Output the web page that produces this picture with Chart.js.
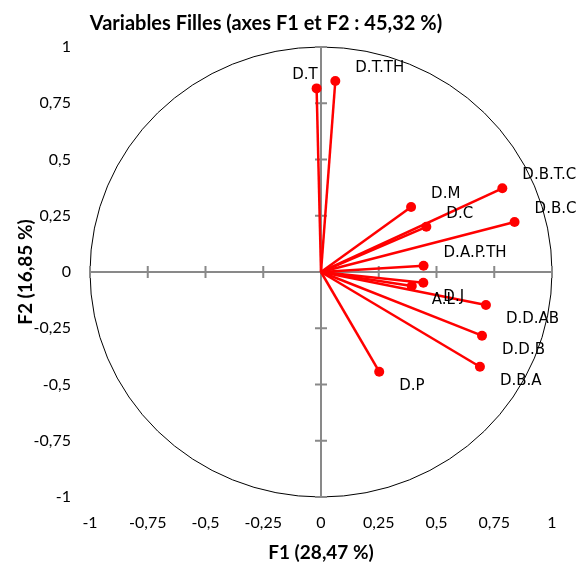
<!DOCTYPE html>
<html>
<head>
<meta charset="utf-8">
<script src="https://cdn.jsdelivr.net/npm/chart.js@4.4.1/dist/chart.umd.min.js"></script>
<style>
  html, body { margin: 0; padding: 0; background: #fff; }
  #wrap { width: 578px; height: 564px; }
</style>
</head>
<body>
<div id="wrap"><canvas id="chart"></canvas></div>
<script>
// correlation circle, variables on F1 / F2
const variables = ["D.T", "D.T.TH", "D.M", "D.B.T.C", "D.C", "D.B.C", "D.A.P.TH", "D.J", "A.L", "D.D.AB", "D.D.B", "D.B.A", "D.P"];
const f1Values = [-0.019, 0.062, 0.390, 0.785, 0.456, 0.838, 0.444, 0.443, 0.393, 0.714, 0.697, 0.688, 0.252];
const f2Values = [0.816, 0.849, 0.289, 0.372, 0.201, 0.222, 0.028, -0.048, -0.062, -0.147, -0.283, -0.421, -0.443];
const axisTicks = [-1, -0.75, -0.5, -0.25, 0, 0.25, 0.5, 0.75, 1];

const chartTitle = "Variables Filles (axes F1 et F2 : 45,32 %)";
const xTitle = "F1 (28,47 %)";
const yTitle = "F2 (16,85 %)";

// labels drawn on the left side of their point
const leftLabels = ["D.T"];

const fmt = (v) => String(v).replace(".", ",");

// unit circle + axes crossing at the origin
const circleAxesPlugin = {
  id: "circleAxes",
  beforeDatasetsDraw(chart) {
    const { ctx, scales: { x, y } } = chart;
    const cx = x.getPixelForValue(0);
    const cy = y.getPixelForValue(0);
    const rx = x.getPixelForValue(1) - cx;
    const ry = cy - y.getPixelForValue(1);

    ctx.save();
    ctx.strokeStyle = "#000";
    ctx.lineWidth = 1;
    ctx.beginPath();
    ctx.ellipse(cx, cy, rx, ry, 0, 0, Math.PI * 2);
    ctx.stroke();

    ctx.strokeStyle = "#898989";
    ctx.lineWidth = 2;
    ctx.beginPath();
    ctx.moveTo(x.getPixelForValue(-1), cy);
    ctx.lineTo(x.getPixelForValue(1), cy);
    ctx.moveTo(cx, y.getPixelForValue(1));
    ctx.lineTo(cx, y.getPixelForValue(-1));
    axisTicks.forEach((v) => {
      const px = x.getPixelForValue(v);
      const py = y.getPixelForValue(v);
      ctx.moveTo(px, cy - 6);
      ctx.lineTo(px, cy + 6);
      ctx.moveTo(cx - 6, py);
      ctx.lineTo(cx + 6, py);
    });
    ctx.stroke();
    ctx.restore();
  },
  afterDraw(chart) {
    const { ctx } = chart;
    ctx.save();
    ctx.fillStyle = "#000";
    ctx.textBaseline = "middle";

    // point labels
    ctx.font = "15px 'DejaVu Sans'";
    variables.forEach((name, i) => {
      const pt = chart.getDatasetMeta(i).data[1];
      const dy = f2Values[i] >= 0 ? -13 : 14;
      if (leftLabels.includes(name)) {
        ctx.textAlign = "right";
        ctx.fillText(name, pt.x + 1, pt.y + dy);
      } else {
        ctx.textAlign = "left";
        ctx.fillText(name, pt.x + 20, pt.y + dy);
      }
    });

    // title
    ctx.font = "bold 20px Lato";
    ctx.textAlign = "center";
    ctx.fillText(chartTitle, 266, 24);
    ctx.restore();
  },
};

const datasets = variables.map((name, i) => ({
  label: name,
  data: [{ x: 0, y: 0 }, { x: f1Values[i], y: f2Values[i] }],
  showLine: true,
  borderColor: "#ff0000",
  backgroundColor: "#ff0000",
  borderWidth: 2.5,
  pointRadius: [0, 5],
  pointHoverRadius: [0, 5],
  pointBorderWidth: 0,
}));

const tickFont = { family: "Lato", size: 16 };
const titleFont = { family: "Lato", size: 19, weight: "bold" };

new Chart(document.getElementById("chart"), {
  type: "scatter",
  data: { datasets },
  options: {
    responsive: true,
    maintainAspectRatio: false,
    animation: false,
    layout: { padding: { top: 47, right: 26, left: 0, bottom: 0 } },
    scales: {
      x: {
        min: -1,
        max: 1,
        grid: { display: false, drawTicks: false },
        border: { display: false },
        afterBuildTicks: (s) => { s.ticks = axisTicks.map((v) => ({ value: v })); },
        afterFit: (s) => { s.height = 67; },
        ticks: { color: "#000", font: tickFont, padding: 16, maxRotation: 0, callback: (v) => fmt(v) },
        title: { display: true, text: xTitle, color: "#000", font: titleFont, padding: { top: 0, bottom: 0 } },
      },
      y: {
        min: -1,
        max: 1,
        grid: { display: false, drawTicks: false },
        border: { display: false },
        afterBuildTicks: (s) => { s.ticks = axisTicks.map((v) => ({ value: v })); },
        afterFit: (s) => { s.width = 90; },
        ticks: { color: "#000", font: tickFont, padding: 19, callback: (v) => fmt(v) },
        title: { display: true, text: yTitle, color: "#000", font: titleFont, padding: { top: 14, bottom: 0 } },
      },
    },
    plugins: {
      legend: { display: false },
      tooltip: { enabled: false },
    },
  },
  plugins: [circleAxesPlugin],
});
</script>
</body>
</html>
